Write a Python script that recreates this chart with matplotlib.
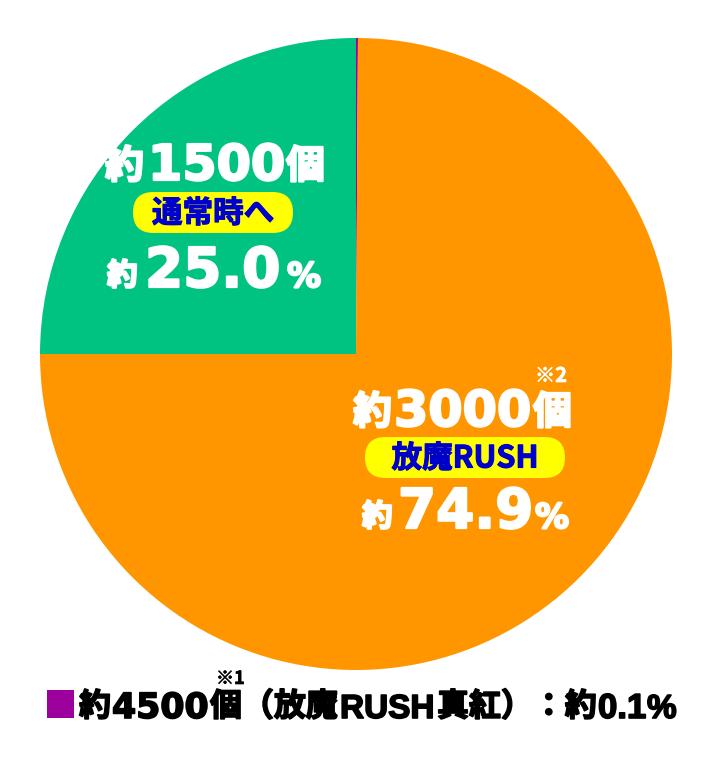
import matplotlib
matplotlib.use("Agg")
import matplotlib.pyplot as plt
import matplotlib.patheffects as pe
from matplotlib.patches import FancyBboxPatch, Rectangle

# data
labels = ["放魔RUSH真紅", "放魔RUSH", "通常時へ"]
shares = [0.1, 74.9, 25.0]
counts = ["4500", "3000", "1500"]
notes = ["※1", "※2", ""]
colors = ["#9E009E", "#FF9600", "#00C382"]

W, H = 712, 762
fig = plt.figure(figsize=(W / 100, H / 100), dpi=100)
fig.patch.set_facecolor("white")

# pie axes: centre (356,354) px, radius 316 px
cx, cy, r = 356, 354, 316
ax = fig.add_axes([(cx - r) / W, (H - cy - r) / H, 2 * r / W, 2 * r / H])
ax.pie(shares, colors=colors, startangle=90, counterclock=False, radius=1,
       wedgeprops=dict(linewidth=0))
ax.set_xlim(-1, 1)
ax.set_ylim(-1, 1)
ax.set_aspect("equal")
ax.axis("off")

JP = ["Noto Sans CJK JP", "DejaVu Sans"]
NUM = ["DejaVu Sans", "Noto Sans CJK JP"]
LAT = ["Liberation Sans", "DejaVu Sans"]


def put(x, y, s, size, color="white", family=JP, stroke=1.6, ha="left"):
    # x, y in pixels from top-left, y is the baseline
    fx = [pe.withStroke(linewidth=stroke, foreground=color)] if stroke else None
    fig.text(x / W, 1 - y / H, s, fontsize=size, color=color, family=family,
             fontweight="bold", ha=ha, va="baseline", path_effects=fx, zorder=5)


def pill(x0, y0, x1, y1, text, size):
    rs = (y1 - y0) / 2
    # drawn in pixel space so the rounding stays circular
    p = FancyBboxPatch((x0, H - y1), x1 - x0, y1 - y0,
                       boxstyle=f"round,pad=0,rounding_size={rs}",
                       facecolor="#FFFF00", edgecolor="none",
                       transform=None, zorder=4)
    fig.patches.append(p)
    fig.text((x0 + x1) / 2 / W, 1 - ((y0 + y1) / 2 + 1) / H, text, fontsize=size,
             color="#0000CC", family=JP, fontweight="bold", ha="center",
             va="center", zorder=5,
             path_effects=[pe.withStroke(linewidth=0.8, foreground="#0000CC")])


# 通常時へ slice
put(105, 178, "約", 28)
put(148, 180, counts[2], 35.5, family=NUM)
put(286, 178, "個", 28)
pill(133, 192, 293, 233, labels[2], 22)
put(107, 285, "約", 22)
put(145, 287, f"{shares[2]:.1f}", 39.5, family=NUM)
put(287, 287, "%", 24.5, family=NUM)

# 放魔RUSH slice
put(353, 424, "約", 28)
put(394, 426, counts[1], 35.5, family=NUM)
put(533, 424, "個", 28)
put(535, 382, notes[1], 14.5, stroke=0.5)
pill(365, 437, 565, 478, labels[1], 22)
put(362, 526, "約", 22)
put(398, 528, f"{shares[1]:.1f}", 39.5, family=NUM)
put(535, 528, "%", 24.5, family=NUM)

# legend line for the tiny slice
fig.patches.append(Rectangle((47, H - 718), 27, 28, transform=None,
                             facecolor=colors[0], edgecolor="none"))
k = "black"
put(79, 716, "約", 23, k, stroke=1.2)
put(112, 718, counts[0], 25, k, family=NUM, stroke=1.2)
put(210, 716, "個（" + labels[0][:2], 23, k, stroke=1.2)
put(216, 684, notes[0], 13, k, stroke=0.5)
put(340, 718, labels[0][2:6], 24, k, family=LAT, stroke=1.2)
put(437, 716, labels[0][6:] + "）：約", 23, k, stroke=1.2)
put(598, 718, f"{shares[0]:.1f}", 25, k, family=LAT, stroke=1.2)
put(647, 718, "%", 24, k, family=LAT, stroke=1.2)

fig.savefig("out.png", dpi=100)
